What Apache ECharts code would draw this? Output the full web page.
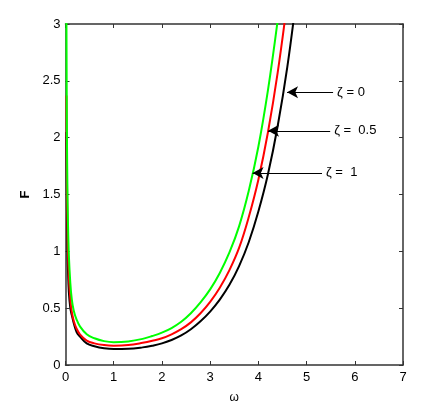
<!DOCTYPE html>
<html>
<head>
<meta charset="utf-8">
<script src="https://cdn.jsdelivr.net/npm/echarts@6/dist/echarts.min.js"></script>
<style>
html,body{margin:0;padding:0;background:#fff;}
#c{width:429px;height:420px;}
</style>
</head>
<body>
<div id="c"></div>
<script>
// zeta = 1 (green)
var greenPts = [[0.018,3.2],[0.025,2.4],[0.03,2.0],[0.04,1.55],[0.05,1.28],[0.07,0.96],[0.1,0.72],[0.13,0.58],[0.17,0.48],[0.23,0.40],[0.3,0.34],[0.44,0.27],[0.6,0.235],[0.8,0.21],[1.0,0.2],[1.3,0.207],[1.6,0.23],[1.8,0.255],[2.0,0.285],[2.2,0.325],[2.4,0.38],[2.6,0.455],[2.8,0.55],[3.0,0.665],[3.2,0.81],[3.4,0.99],[3.6,1.22],[3.8,1.53],[4.0,1.92],[4.2,2.42],[4.4,3.03],[4.5,3.4]];
// zeta = 0.5 (red)
var redPts = [[0.02,2.37],[0.025,1.95],[0.03,1.65],[0.04,1.28],[0.05,1.02],[0.07,0.78],[0.1,0.58],[0.13,0.47],[0.17,0.39],[0.23,0.32],[0.3,0.27],[0.44,0.215],[0.6,0.19],[0.8,0.175],[1.0,0.17],[1.3,0.175],[1.6,0.195],[1.8,0.213],[2.0,0.235],[2.2,0.27],[2.4,0.315],[2.6,0.375],[2.8,0.455],[3.0,0.555],[3.2,0.68],[3.4,0.835],[3.6,1.03],[3.8,1.3],[4.0,1.63],[4.2,2.05],[4.4,2.57],[4.6,3.2]];
// zeta = 0 (black)
var blackPts = [[0.02,2.05],[0.025,1.65],[0.03,1.38],[0.04,1.05],[0.05,0.86],[0.07,0.64],[0.1,0.50],[0.13,0.44],[0.17,0.37],[0.23,0.29],[0.3,0.25],[0.44,0.19],[0.6,0.165],[0.8,0.147],[1.0,0.14],[1.3,0.142],[1.6,0.155],[1.8,0.17],[2.0,0.19],[2.2,0.22],[2.4,0.26],[2.6,0.315],[2.8,0.385],[3.0,0.47],[3.2,0.575],[3.4,0.705],[3.6,0.87],[3.8,1.08],[4.0,1.35],[4.2,1.68],[4.4,2.1],[4.6,2.62],[4.8,3.27]];

// annotations: text, F level, arrow start (text side) omega, arrow tip omega
var annText = ['ζ = 0', 'ζ =  0.5', 'ζ =  1'];
var annF = [2.40, 2.06, 1.69];
var annFrom = [5.55, 5.49, 5.32];
var annTo = [4.595, 4.20, 3.88];

var xTicks = {min:0, max:7, interval:1};
var yTicks = {min:0, max:3, interval:0.5};

var FONT = "'Liberation Sans Narrow', 'Liberation Sans', Arial, sans-serif";
var axisCol = '#333';

var chart = echarts.init(document.getElementById('c'), null, {renderer:'canvas'});

var markData = annText.map(function(t,i){
  return [
    {coord:[annFrom[i], annF[i]], label:{formatter:t}},
    {coord:[annTo[i], annF[i]]}
  ];
});

function lineSeries(name, pts, color, extra){
  var s = {
    name:name, type:'line', data:pts, showSymbol:false, symbol:'none',
    smooth:0.4, clip:true,
    lineStyle:{color:color, width:2},
    xAxisIndex:0, yAxisIndex:0, z:3
  };
  if (extra) for (var k in extra) s[k]=extra[k];
  return s;
}

var option = {
  animation:false,
  backgroundColor:'#fff',
  grid:{left:65.5, right:26, top:24, bottom:55, containLabel:false},
  xAxis:[{
    type:'value', min:xTicks.min, max:xTicks.max, interval:xTicks.interval,
    name:'ω', nameLocation:'middle', nameGap:27,
    nameTextStyle:{fontFamily:FONT, fontSize:12, color:'#000'},
    axisLine:{show:true, onZero:false, lineStyle:{color:axisCol, width:1.5}},
    axisTick:{show:true, inside:true, length:4, lineStyle:{color:axisCol, width:1}},
    axisLabel:{fontFamily:FONT, fontSize:13, color:'#000', margin:6},
    splitLine:{show:false}
  },{
    type:'value', position:'top', min:xTicks.min, max:xTicks.max, interval:xTicks.interval,
    axisLine:{show:true, onZero:false, lineStyle:{color:axisCol, width:1.5}},
    axisTick:{show:true, inside:true, length:4, lineStyle:{color:axisCol, width:1}},
    axisLabel:{show:false}, splitLine:{show:false}
  }],
  yAxis:[{
    type:'value', min:yTicks.min, max:yTicks.max, interval:yTicks.interval,
    name:'F', nameLocation:'middle', nameGap:22, nameRotate:90,
    nameTextStyle:{fontFamily:FONT, fontSize:13, color:'#000', fontWeight:'bold'},
    axisLine:{show:true, onZero:false, lineStyle:{color:axisCol, width:1.5}},
    axisTick:{show:true, inside:true, length:4, lineStyle:{color:axisCol, width:1}},
    axisLabel:{fontFamily:FONT, fontSize:13, color:'#000', margin:5},
    splitLine:{show:false}
  },{
    type:'value', position:'right', min:yTicks.min, max:yTicks.max, interval:yTicks.interval,
    axisLine:{show:true, onZero:false, lineStyle:{color:axisCol, width:1.5}},
    axisTick:{show:true, inside:true, length:4, lineStyle:{color:axisCol, width:1}},
    axisLabel:{show:false}, splitLine:{show:false}
  }],
  series:[
    lineSeries('ζ=0', blackPts, '#000000', {
      markLine:{
        silent:true, animation:false,
        symbol:['none','arrow'], symbolSize:[9,11],
        lineStyle:{color:'#000', width:1, type:'solid'},
        label:{show:true, position:'start', distance:4, fontFamily:FONT, fontSize:13, color:'#000'},
        data:markData
      }
    }),
    lineSeries('ζ=0.5', redPts, '#ff0000'),
    lineSeries('ζ=1', greenPts, '#00ff00')
  ]
};
chart.setOption(option);
</script>
</body>
</html>
